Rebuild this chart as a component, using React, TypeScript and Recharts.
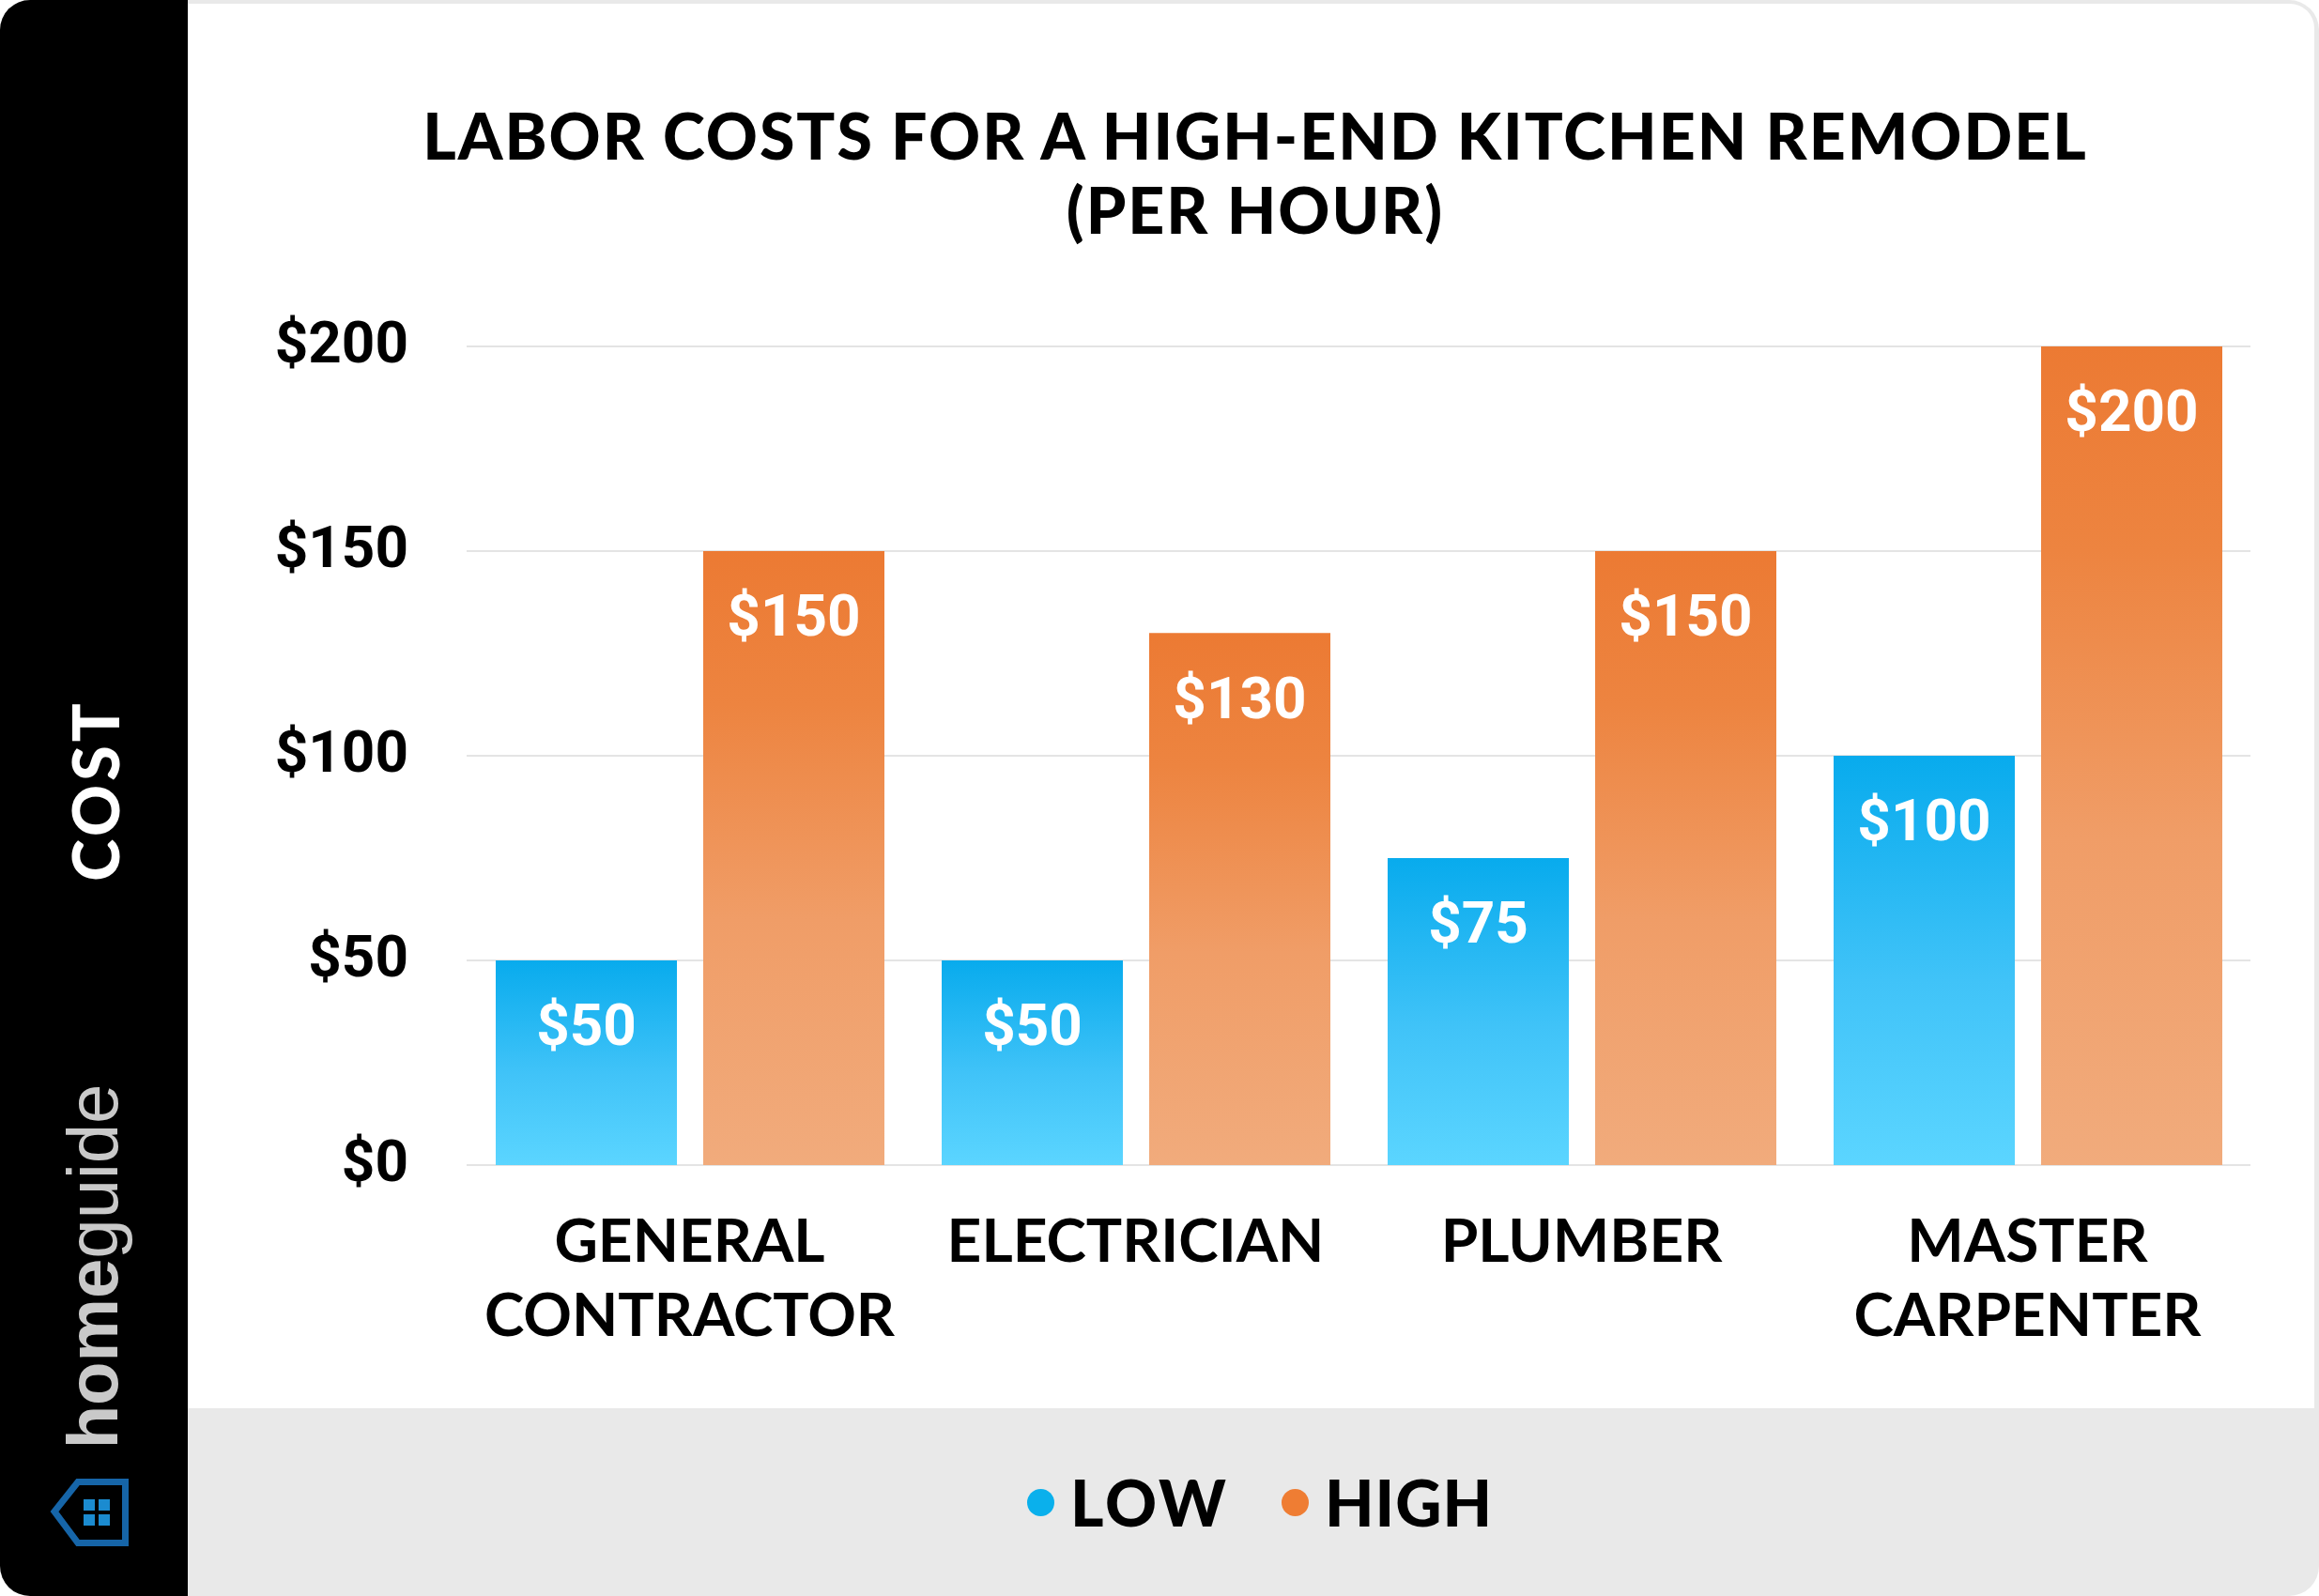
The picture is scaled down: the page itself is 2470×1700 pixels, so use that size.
import React from 'react';
import { BarChart, Bar, XAxis, YAxis, CartesianGrid, LabelList } from 'recharts';

const trades = ['GENERAL CONTRACTOR', 'ELECTRICIAN', 'PLUMBER', 'MASTER CARPENTER'];
const lowRates = [50, 50, 75, 100];
const highRates = [150, 130, 150, 200];
const costTicks = [0, 50, 100, 150, 200];

const chartData = trades.map((name, i) => ({ name, low: lowRates[i], high: highRates[i] }));

const TITLE_FONT = 'Lato, "Noto Sans", sans-serif';
const NUM_FONT = 'Roboto, "Noto Sans", sans-serif';

const TradeTick = (props: any) => {
  const { x, y, payload } = props;
  const words: string[] = payload.value.split(' ');
  return (
    <text x={x} y={y} textAnchor="middle" fill="#000" fontFamily={TITLE_FONT} fontWeight={700} fontSize={64}>
      {words.map((w, i) => (
        <tspan key={w} x={x} dy={i === 0 ? 103 : 79}>{w}</tspan>
      ))}
    </text>
  );
};

const CostTick = (props: any) => {
  const { x, y, payload } = props;
  return (
    <text x={x} y={y - 5} dy="0.355em" textAnchor="end" fill="#000" fontFamily={NUM_FONT} fontWeight={700} fontSize={62}>
      {`$${payload.value}`}
    </text>
  );
};

const BarValue = (props: any) => {
  const { x, y, width, value } = props;
  return (
    <text x={x + width / 2} y={y + 68} dy="0.36em" textAnchor="middle" fill="#fff"
      fontFamily={NUM_FONT} fontWeight={700} fontSize={62}>
      {`$${value}`}
    </text>
  );
};

const HouseIcon = () => (
  <svg width={100} height={90} style={{ position: 'absolute', left: 46, top: 1566 }}>
    <polygon points="87.5,12.5 87.5,77.5 37,77.5 12,44 37,12.5" fill="none" stroke="#1665a8" strokeWidth={7} />
    <rect x={43} y={31} width={12} height={12} fill="#1b8bd0" />
    <rect x={59} y={31} width={12} height={12} fill="#1b8bd0" />
    <rect x={43} y={47} width={12} height={12} fill="#1b8bd0" />
    <rect x={59} y={47} width={12} height={12} fill="#1b8bd0" />
  </svg>
);

const Dot = ({ color }: { color: string }) => (
  <span style={{ display: 'inline-block', width: 29, height: 29, borderRadius: '50%', background: color, marginRight: 17 }} />
);

export default function App() {
  return (
    <div style={{ position: 'absolute', left: 0, top: 0, width: 2470, height: 1700, overflow: 'hidden', background: '#fff' }}>
      {/* card frame */}
      <div style={{ position: 'absolute', left: 0, top: 0, width: 2470, height: 1700, background: '#e9e9e9', borderRadius: 32 }} />
      <div style={{ position: 'absolute', left: 200, top: 4, width: 2265, height: 1496, background: '#fff', borderTopRightRadius: 26 }} />
      <div style={{ position: 'absolute', left: 0, top: 0, width: 200, height: 1700, background: '#000', borderTopLeftRadius: 32, borderBottomLeftRadius: 32 }} />

      {/* side label + brand */}
      <div style={{
        position: 'absolute', left: 101, top: 842, transform: 'translate(-50%, -50%) rotate(-90deg)',
        color: '#fff', fontFamily: TITLE_FONT, fontWeight: 900, fontSize: 68, letterSpacing: 4, whiteSpace: 'nowrap', lineHeight: 1,
      }}>COST</div>
      <div style={{
        position: 'absolute', left: 99, top: 1349, transform: 'translate(-50%, -50%) rotate(-90deg)',
        color: '#c9c9c9', fontFamily: '"Liberation Sans", sans-serif', fontSize: 76, whiteSpace: 'nowrap', lineHeight: 1,
      }}>
        <span style={{ fontWeight: 700 }}>home</span><span style={{ fontWeight: 400 }}>guide</span>
      </div>
      <HouseIcon />

      {/* title */}
      <div style={{
        position: 'absolute', left: 200, top: 104, width: 2274, textAlign: 'center',
        fontFamily: TITLE_FONT, fontWeight: 900, fontSize: 68, lineHeight: '79px', letterSpacing: 2, color: '#000',
      }}>
        LABOR COSTS FOR A HIGH-END KITCHEN REMODEL<br />(PER HOUR)
      </div>

      <div style={{ position: 'absolute', left: 0, top: 0 }}>
        <BarChart width={2470} height={1700} data={chartData} barCategoryGap={31} barGap={28}
          margin={{ top: 369, right: 73, left: 200, bottom: 259 }}>
          <defs>
            <linearGradient id="lowFill" x1="0" y1="0" x2="0" y2="1">
              <stop offset="0%" stopColor="#08abed" />
              <stop offset="55%" stopColor="#40c3f8" />
              <stop offset="100%" stopColor="#5bd5ff" />
            </linearGradient>
            <linearGradient id="highFill" x1="0" y1="0" x2="0" y2="1">
              <stop offset="0%" stopColor="#ec7a33" />
              <stop offset="25%" stopColor="#ed8440" />
              <stop offset="60%" stopColor="#f09d67" />
              <stop offset="100%" stopColor="#f1ab7c" />
            </linearGradient>
          </defs>
          <CartesianGrid vertical={false} stroke="#e4e4e4" strokeWidth={2} />
          <XAxis dataKey="name" axisLine={false} tickLine={false} tickSize={0} tickMargin={0} height={200}
            interval={0} tick={<TradeTick />} />
          <YAxis domain={[0, 200]} ticks={costTicks} width={297} axisLine={false} tickLine={false}
            tickSize={0} tickMargin={62} tick={<CostTick />} />
          <Bar dataKey="low" fill="url(#lowFill)" isAnimationActive={false}>
            <LabelList dataKey="low" content={<BarValue />} />
          </Bar>
          <Bar dataKey="high" fill="url(#highFill)" isAnimationActive={false}>
            <LabelList dataKey="high" content={<BarValue />} />
          </Bar>
        </BarChart>
      </div>

      {/* legend */}
      <div style={{
        position: 'absolute', left: 1094, top: 1600, transform: 'translateY(-50%)',
        display: 'flex', alignItems: 'center', whiteSpace: 'nowrap', lineHeight: 1,
        fontFamily: TITLE_FONT, fontWeight: 900, fontSize: 68, letterSpacing: 3, color: '#000',
      }}>
        <Dot color="#0ab0ec" />
        <span>LOW</span>
        <span style={{ width: 56 }} />
        <Dot color="#ef7d33" />
        <span style={{ letterSpacing: 1 }}>HIGH</span>
      </div>
    </div>
  );
}
